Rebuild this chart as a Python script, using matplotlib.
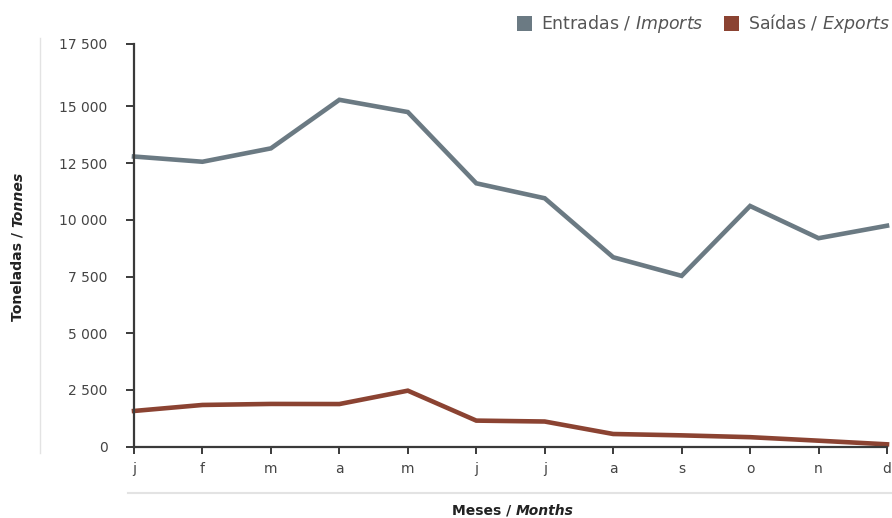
import numpy as np
import matplotlib
matplotlib.use("Agg")
import matplotlib.pyplot as plt
from matplotlib.lines import Line2D
from matplotlib.patches import Rectangle

months = ["j", "f", "m", "a", "m", "j", "j", "a", "s", "o", "n", "d"]
imports = [12790, 12560, 13150, 15290, 14750, 11610, 10950, 8350, 7530, 10610, 9190, 9740]
exports = [1575, 1840, 1885, 1880, 2470, 1150, 1110, 560, 500, 420, 265, 105]
# top of the axis sits a bit above 17 500 in the original, but is labelled 17 500
ymax = 17750
ytick_vals = [0, 2500, 5000, 7500, 10000, 12500, 15000, ymax]
ytick_labels = ["0", "2 500", "5 000", "7 500", "10 000", "12 500", "15 000", "17 500"]

c_imp = "#6b7a83"
c_exp = "#8b4332"
txt = "#444444"

plt.rcParams["font.family"] = ["DejaVu Sans"]
plt.rcParams["mathtext.fontset"] = "dejavusans"

fig = plt.figure(figsize=(8.92, 5.18), dpi=100)
ax = fig.add_axes([134 / 892, 1 - 446.7 / 518, 753 / 892, 402.7 / 518])

x = np.arange(len(months))
ax.plot(x, imports, color=c_imp, lw=3.3, clip_on=False, solid_joinstyle="miter")
ax.plot(x, exports, color=c_exp, lw=3.3, clip_on=False, solid_joinstyle="miter")

ax.set_xlim(0, 11)
ax.set_ylim(0, ymax)
ax.set_xticks(x)
ax.set_xticklabels(months)
ax.set_yticks(ytick_vals)
ax.set_yticklabels(ytick_labels)

for s in ["top", "right"]:
    ax.spines[s].set_visible(False)
for s in ["left", "bottom"]:
    ax.spines[s].set_color("#3a3a3a")
    ax.spines[s].set_linewidth(1.6)

ax.tick_params(axis="y", length=6, width=1.4, color="#3a3a3a", pad=13,
               labelsize=10, labelcolor=txt)
ax.tick_params(axis="x", length=5, width=1.4, color="#3a3a3a", pad=6,
               labelsize=10, labelcolor=txt)

# light guide lines
fig.add_artist(Line2D([40 / 892, 40 / 892], [1 - 453 / 518, 1 - 38 / 518],
                      color="#e3e3e3", lw=1))
fig.add_artist(Line2D([128 / 892, 1.0], [1 - 493 / 518, 1 - 493 / 518],
                      color="#e3e3e3", lw=1.5))

# axis titles with bold + bold italic pieces
t1 = fig.text(452 / 892, 1 - 511 / 518, "Meses / ", fontsize=10, fontweight="bold",
              color="#222222", ha="left", va="center")
ax.annotate("Months", xy=(1, 0), xycoords=t1, ha="left", va="bottom",
            fontsize=10, fontweight="bold", fontstyle="italic", color="#222222")

t2 = fig.text(18 / 892, 1 - 321 / 518, "Toneladas / ", fontsize=10.1, fontweight="bold",
              color="#222222", rotation=90, ha="center", va="bottom")
ax.annotate("Tonnes", xy=(0.5, 1), xycoords=t2, ha="center", va="bottom", rotation=90,
            fontsize=10.1, fontweight="bold", fontstyle="italic", color="#222222")

# legend (mathtext keeps plain and italic parts on one baseline)
def legend_item(x0, color, label):
    fig.add_artist(Rectangle((x0 / 892, 1 - 31 / 518), 15 / 892, 15 / 518,
                             transform=fig.transFigure, facecolor=color, edgecolor="none"))
    fig.text((x0 + 24) / 892, 1 - 29 / 518, label, fontsize=12.5, color="#555555",
             ha="left", va="baseline")

legend_item(517, c_imp, r"Entradas / $\mathit{Imports}$")
legend_item(724, c_exp, r"Saídas / $\mathit{Exports}$")

fig.savefig("out.png", dpi=100)
